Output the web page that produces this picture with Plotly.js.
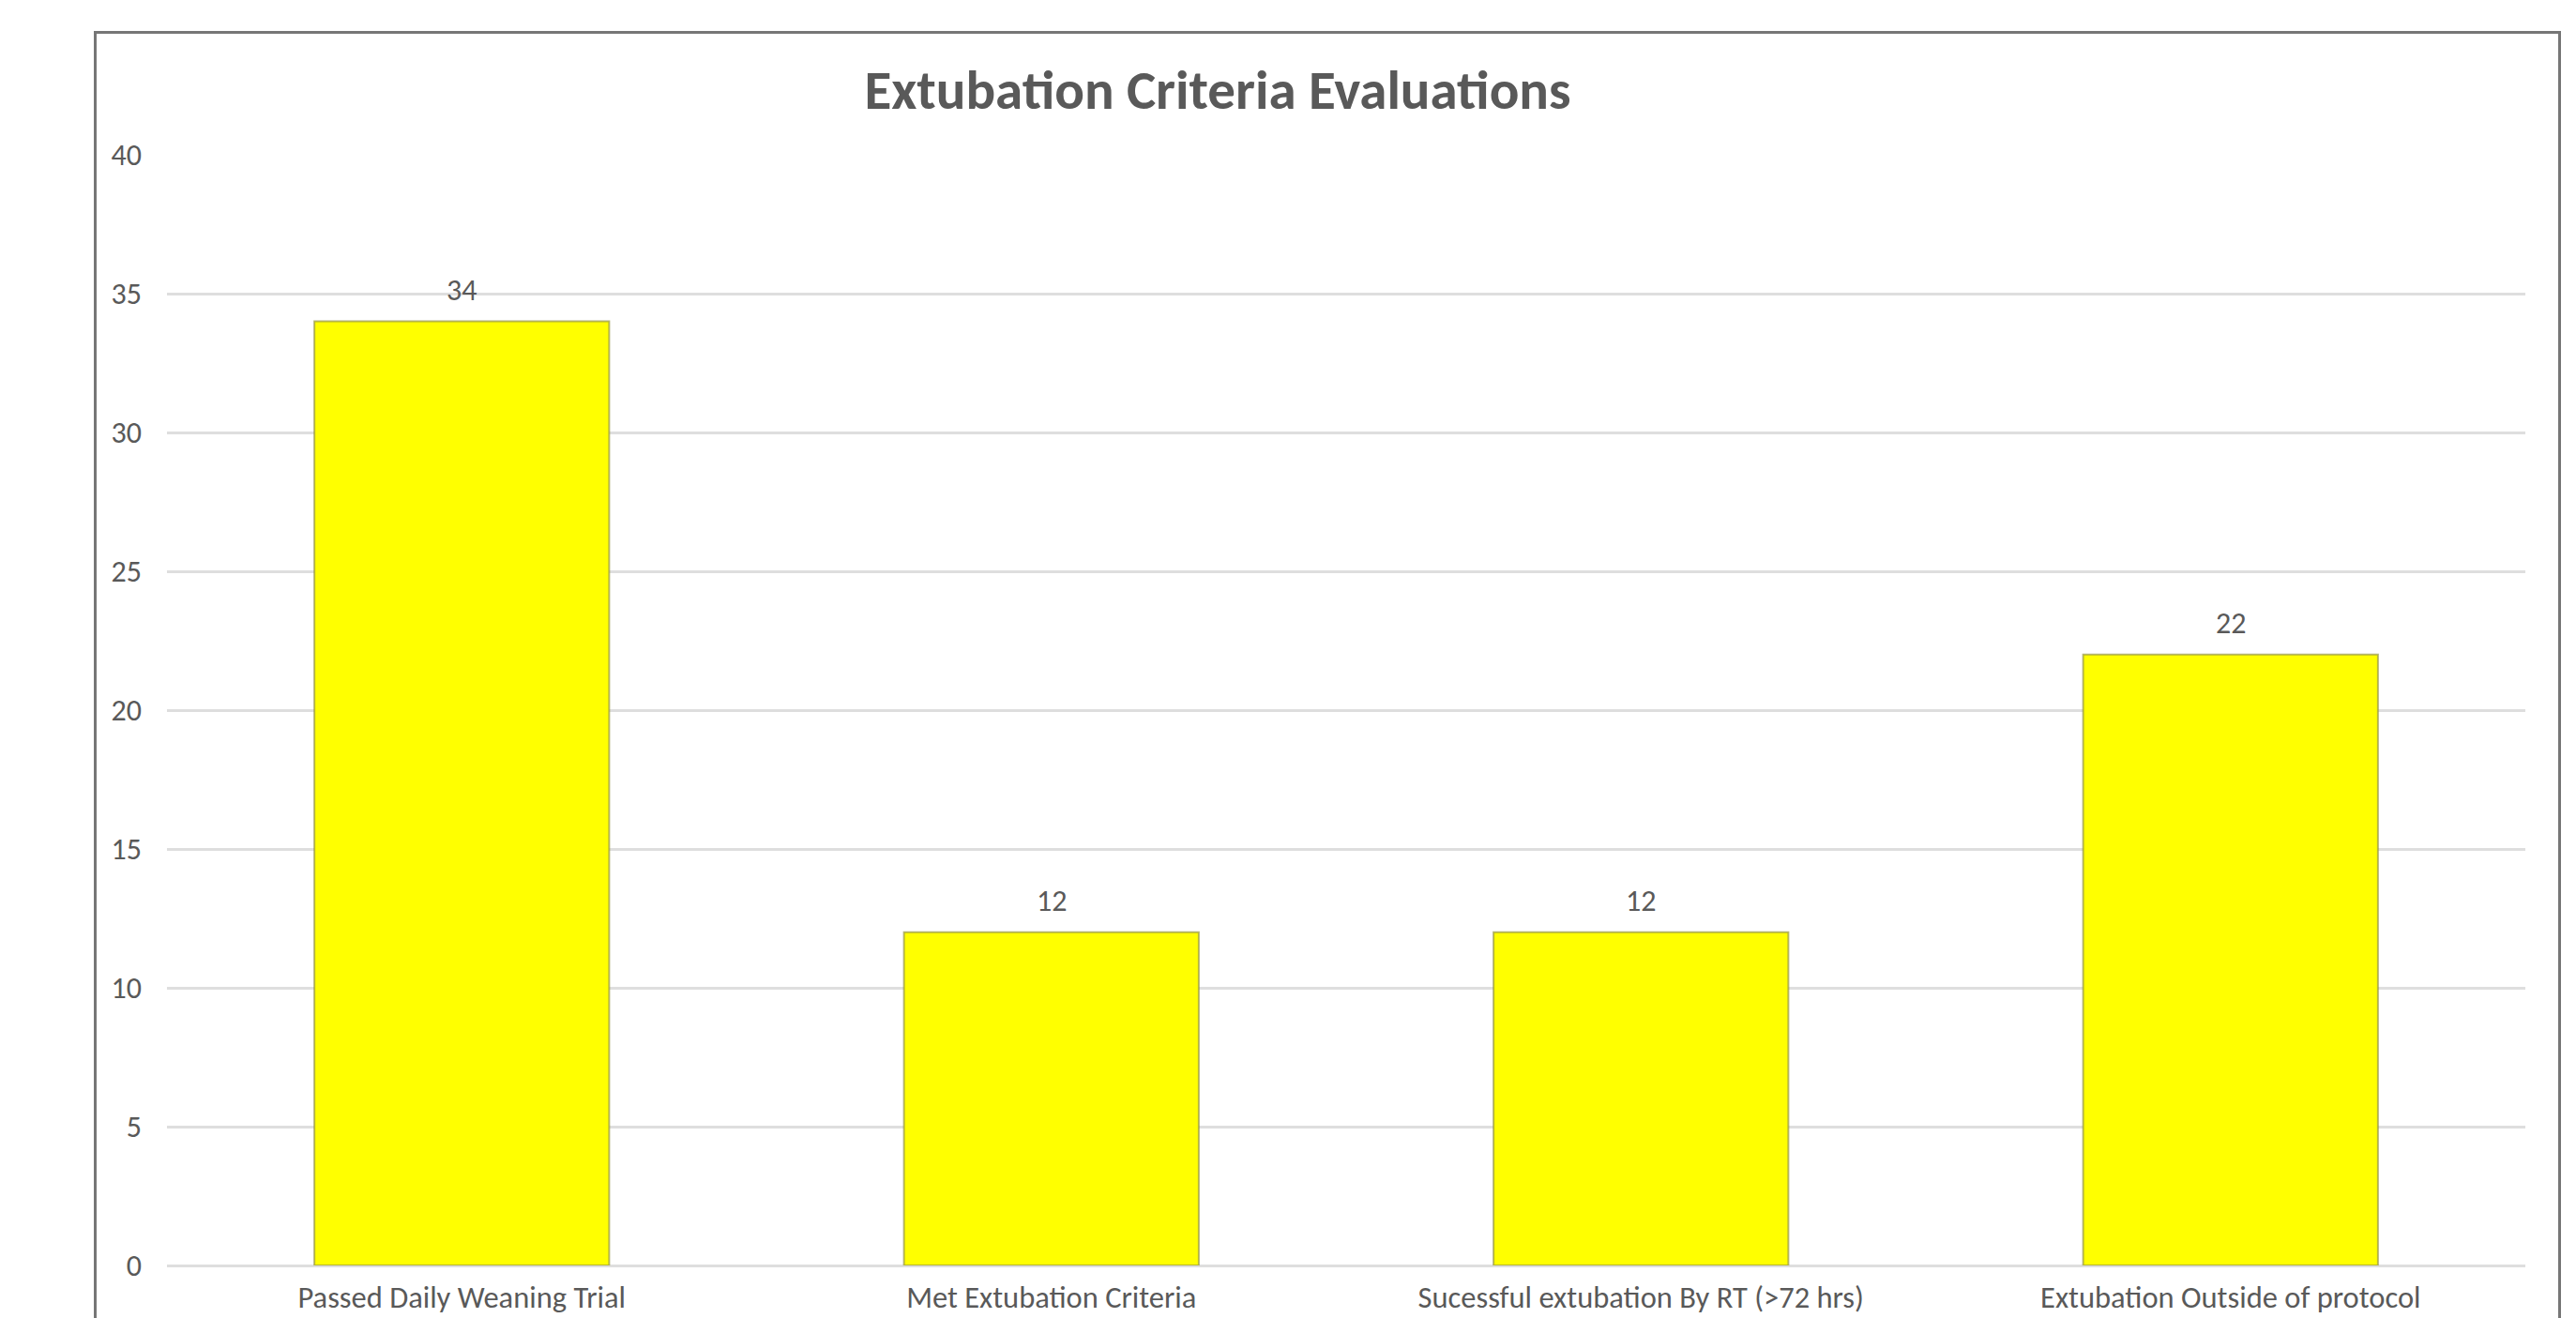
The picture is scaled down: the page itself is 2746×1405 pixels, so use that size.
<!DOCTYPE html>
<html>
<head>
<meta charset="utf-8">
<script src="https://cdn.plot.ly/plotly-3.0.1.min.js"></script>
<style>
html,body{margin:0;padding:0;background:#fff;width:2746px;height:1405px;overflow:hidden;}
#frame{position:absolute;left:100px;top:33px;width:2630px;height:1500px;border:3px solid #767676;box-sizing:border-box;pointer-events:none;z-index:2;}
#chart{position:absolute;left:0;top:0;width:2746px;height:1405px;}
</style>
</head>
<body>
<div id="chart"></div>
<div id="frame"></div>
<script>
const categories = ["Passed Daily Weaning Trial", "Met Extubation Criteria", "Sucessful extubation By RT (>72 hrs)", "Extubation Outside of protocol"];
const values = [34, 12, 12, 22];
const yTicks = [0, 5, 10, 15, 20, 25, 30, 35, 40];

const FONT = "Carlito, 'Liberation Sans Narrow', 'Open Sans', sans-serif";
const GREY = "#595959";

const trace = {
  type: "bar",
  x: categories,
  y: values,
  marker: {color: "#FFFF00", line: {color: "rgba(150,150,70,0.7)", width: 2}},
  hoverinfo: "x+y"
};

const annotations = categories.map((c, i) => ({
  x: c, y: values[i], xref: "x", yref: "y",
  text: String(values[i]), showarrow: false,
  yanchor: "bottom", yshift: 12,
  font: {family: FONT, size: 32, color: GREY}
}));

const layout = {
  width: 2746, height: 1405,
  margin: {l: 178, r: 54, t: 165, b: 56},
  paper_bgcolor: "#ffffff", plot_bgcolor: "#ffffff",
  showlegend: false,
  bargap: 0.5,
  title: {
    text: "<b>Extubation Criteria Evaluations</b>",
    x: 0.4455, xref: "paper", xanchor: "center",
    y: 1 - 95 / 1405, yref: "container", yanchor: "middle",
    font: {family: FONT, size: 59, color: GREY}
  },
  xaxis: {
    type: "category",
    showgrid: false, zeroline: false, showline: false,
    ticks: "", ticklabelstandoff: 11,
    tickfont: {family: FONT, size: 32.5, color: GREY}
  },
  yaxis: {
    range: [0, 40], tickvals: yTicks, ticktext: yTicks.map(String),
    showgrid: true, gridcolor: "#DEDEDE", gridwidth: 3,
    zeroline: true, zerolinecolor: "#DEDEDE", zerolinewidth: 3,
    showline: false, ticks: "", ticklabelstandoff: 26,
    tickfont: {family: FONT, size: 32, color: GREY}
  },
  annotations: annotations
};

Plotly.newPlot("chart", [trace], layout, {displayModeBar: false, staticPlot: true});
</script>
</body>
</html>
